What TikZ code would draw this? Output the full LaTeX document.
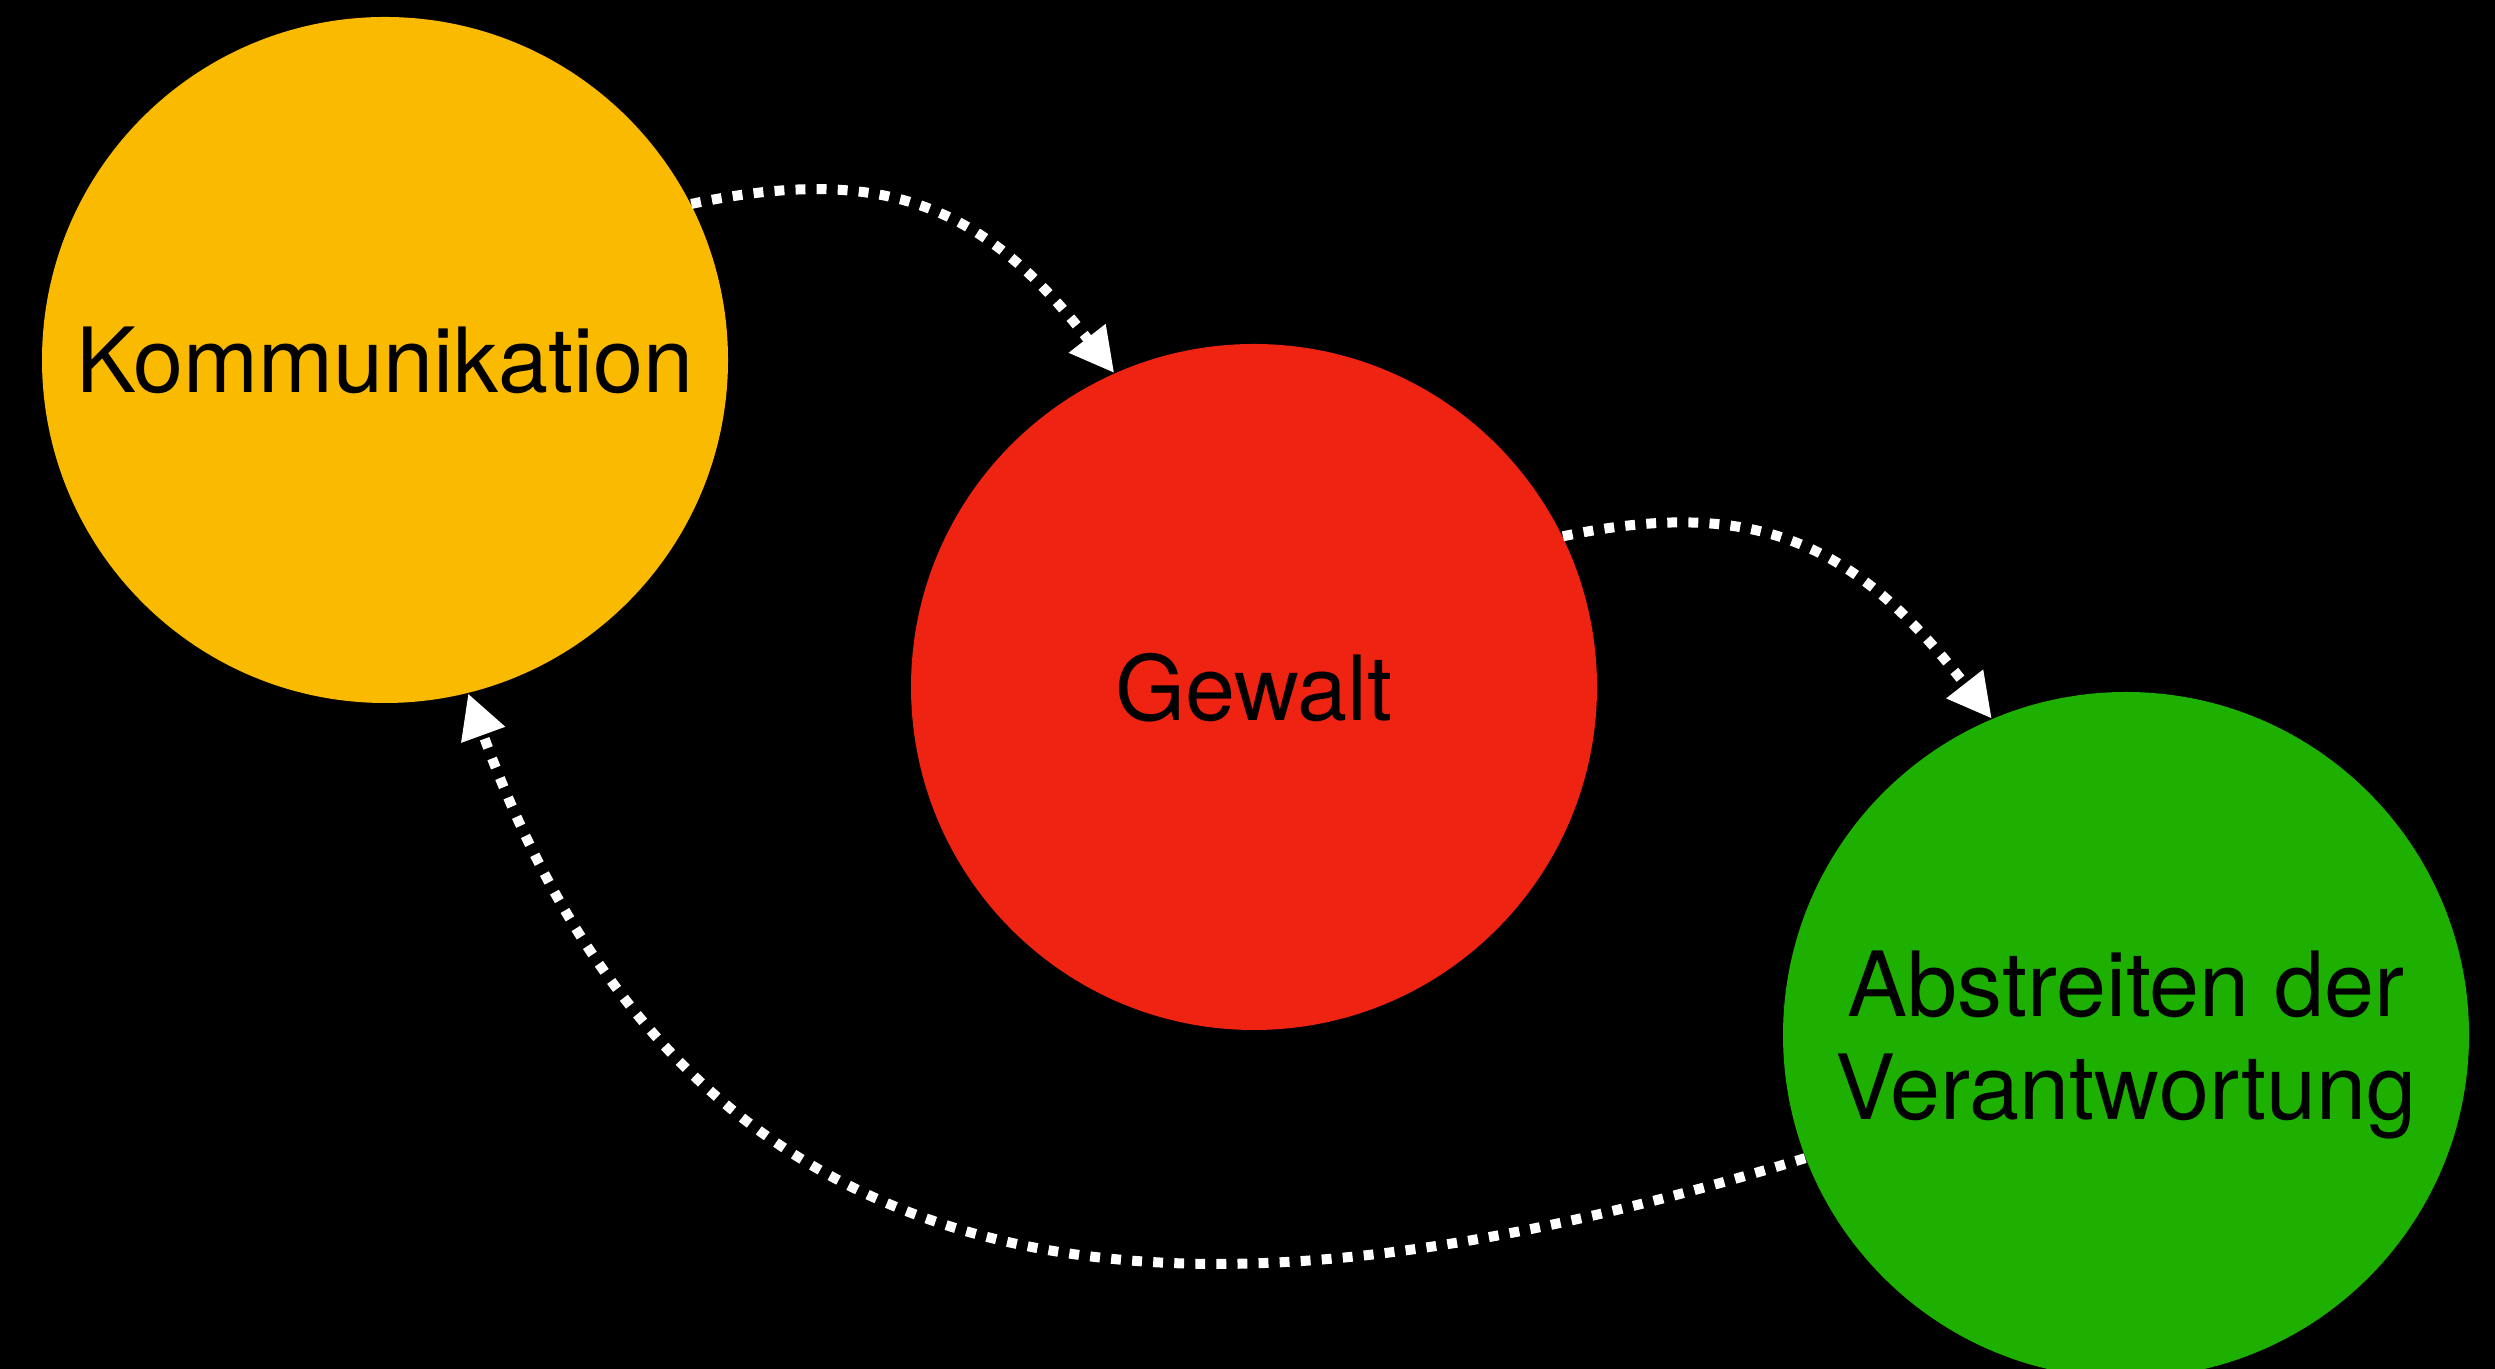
\documentclass[tikz,border=0pt]{standalone}
\usepackage{fontspec}
\setmainfont{TeX Gyre Heros}
\usepackage{xcolor}
\usepackage{tikz}
\usetikzlibrary{arrows.meta}

\definecolor{kommgelb}{RGB}{249,186,0}
\definecolor{gewaltrot}{RGB}{238,35,17}
\definecolor{abstgruen}{RGB}{29,176,0}

\begin{document}
\begin{tikzpicture}[>={Triangle[length=4.4mm,width=4.4mm]},
		bubble/.style={circle, minimum size=6.86cm, inner sep=0pt, align=center, text depth=0pt, font=\fontsize{25.6}{29.3}\selectfont},
		dotarrow/.style={->, white, line width=1mm, dash pattern=on 2.8pt off 3.2pt}]
		\fill[black] (0,0) rectangle (24.95,13.69);
		\useasboundingbox (0,0) rectangle (24.95,13.69);

		% Kreise
		\node at (3.85,10.09) (komm) [bubble, fill=kommgelb] {Kommunikation};
		\node at (12.54,6.82) (gewalt) [bubble, fill=gewaltrot] {Gewalt};
		\node at (21.26,3.34) (abst) [bubble, fill=abstgruen] {Abstreiten der\\Verantwortung};

		% Pfeile
		\draw[dotarrow] (komm.27) to[out=12,in=128,looseness=1.15] (gewalt.114);
		\draw[dotarrow] (gewalt.26) to[out=12,in=128,looseness=1.15] (abst.113);
		\draw[dotarrow] (abst.201) .. controls +(197:6) and +(-70:7) .. (komm.284);
	\end{tikzpicture}
\end{document}
